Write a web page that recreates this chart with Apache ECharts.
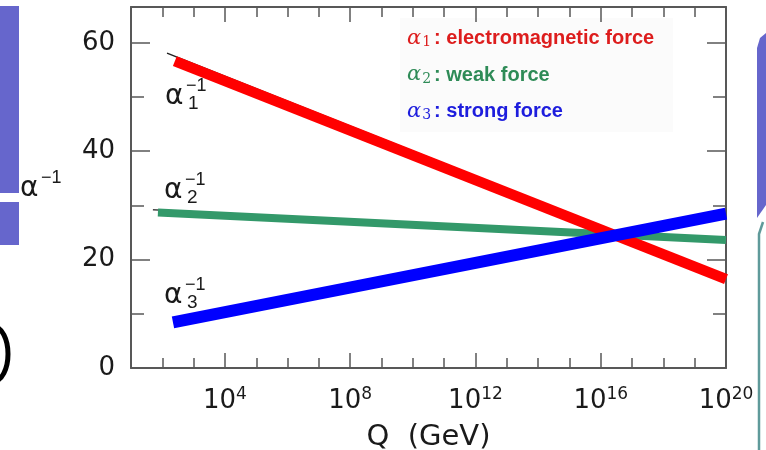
<!DOCTYPE html>
<html><head><meta charset="utf-8">
<script src="https://cdn.jsdelivr.net/npm/echarts@6/dist/echarts.min.js"></script>
<style>html,body{margin:0;padding:0;background:#fff}#c{width:766px;height:450px}</style>
</head><body><div id="c"></div>
<script>
// x values are exponents n of Q = 10^n GeV
const legendNames = ['α1: electromagnetic force', 'α2: weak force', 'α3: strong force'];
const redX = [2.40, 20];   const redY = [56.6, 16.4];
const greenX = [1.86, 20]; const greenY = [28.7, 23.6];
const blueX = [2.34, 20];  const blueY = [8.4, 28.5];
const blackX = [2.15, 20]; const blackY = [58.1, 17.0];
const greyX = [1.70, 20];  const greyY = [29.2, 24.0];
const xLabelExps = [4, 8, 12, 16, 20];
const yLabels = [0, 20, 40, 60];

const zip = (a, b) => a.map((v, i) => [v, b[i]]);
const axisCol = '#585858';
const txt = '#1a1a1a';

const xBase = {
  type: 'value', min: 1, max: 20, interval: 1,
  splitLine: { show: false }, axisLine: { show: false, onZero: false }, axisLabel: { show: false },
  axisTick: { show: true, inside: true, length: 10, lineStyle: { color: axisCol, width: 1.5 } }
};
const yBase = {
  type: 'value', min: 0, max: 66.6, interval: 10,
  splitLine: { show: false }, axisLine: { show: false, onZero: false }, axisLabel: { show: false },
  axisTick: { show: true, inside: true, length: 13, lineStyle: { color: axisCol, width: 1.5 } }
};
const frameLine = { show: true, onZero: false, lineStyle: { color: axisCol, width: 2 } };

const legendColors = ['#dd1d1d', '#2e8b57', '#1d1ddd'];
const rich = {};
legendColors.forEach((c, i) => {
  rich['g' + i] = { color: c, fontFamily: 'DejaVu Serif', fontStyle: 'italic', fontSize: 21, lineHeight: 22 };
  rich['s' + i] = { color: c, fontFamily: 'DejaVu Serif', fontSize: 14, lineHeight: 8, verticalAlign: 'bottom', padding: [0, 3, 0, 1] };
  rich['t' + i] = { color: c, fontFamily: 'Liberation Sans', fontWeight: 'bold', fontSize: 20, lineHeight: 22 };
});

function alphaLabel(x, yc, sub) {
  const els = [
    { type: 'text', x: x, y: yc, style: { text: 'α', font: '28px "DejaVu Sans"', fill: txt, verticalAlign: 'middle', align: 'left' } },
    { type: 'text', x: x + 21, y: yc - 11, style: { text: '−1', font: '18px "Liberation Sans"', fill: txt, verticalAlign: 'middle', align: 'left' } }
  ];
  if (sub) els.push({ type: 'text', x: x + 23, y: yc + 7, style: { text: sub, font: '19px "Liberation Sans"', fill: txt, verticalAlign: 'middle', align: 'left' } });
  return els;
}

const chart = echarts.init(document.getElementById('c'));
chart.setOption({
  animation: false,
  backgroundColor: '#fff',
  grid: { left: 131, top: 7, right: 40, bottom: 82, containLabel: false, outerBoundsMode: 'none' },
  legend: {
    orient: 'vertical', left: 402, top: 28, itemGap: 15, icon: 'none', itemWidth: 0, itemHeight: 20,
    padding: 0, selectedMode: false,
    data: legendNames,
    formatter: function (n) {
      const i = legendNames.indexOf(n);
      const m = n.match(/^α(\d): (.*)$/);
      return '{g' + i + '|α}{s' + i + '|' + m[1] + '}{t' + i + '|: ' + m[2] + '}';
    },
    textStyle: { rich: rich }
  },
  xAxis: [
    Object.assign({}, xBase, {
      position: 'bottom', axisLine: frameLine,
      axisLabel: {
        show: true, customValues: xLabelExps, margin: 18, color: txt,
        formatter: v => '{b|10}{s|' + Math.round(v) + '}',
        rich: {
          b: { fontFamily: 'DejaVu Sans', fontSize: 26, lineHeight: 30, color: txt },
          s: { fontFamily: 'DejaVu Sans', fontSize: 17, lineHeight: 12, verticalAlign: 'top', color: txt }
        }
      },
      name: 'Q  (GeV)', nameLocation: 'middle', nameGap: 55,
      nameTextStyle: { fontFamily: 'DejaVu Sans', fontSize: 29, color: txt }
    }),
    Object.assign({}, xBase, { position: 'top', axisLine: frameLine }),
    Object.assign({}, xBase, { position: 'bottom', axisTick: Object.assign({}, xBase.axisTick, { length: 15, customValues: xLabelExps }) }),
    Object.assign({}, xBase, { position: 'top', axisTick: Object.assign({}, xBase.axisTick, { length: 15, customValues: xLabelExps }) })
  ],
  yAxis: [
    Object.assign({}, yBase, {
      position: 'left', axisLine: frameLine,
      axisLabel: {
        show: true, customValues: yLabels, margin: 16, color: txt,
        fontFamily: 'DejaVu Sans', fontSize: 26, padding: [10, 0, 0, 0]
      }
    }),
    Object.assign({}, yBase, { position: 'right', axisLine: frameLine }),
    Object.assign({}, yBase, { position: 'left', interval: 20, axisTick: Object.assign({}, yBase.axisTick, { length: 19 }) }),
    Object.assign({}, yBase, { position: 'right', interval: 20, axisTick: Object.assign({}, yBase.axisTick, { length: 19 }) })
  ],
  series: [
    { type: 'line', name: 'k1', data: zip(blackX, blackY), symbol: 'none', silent: true, z: 1,
      lineStyle: { color: '#222', width: 1.5 }, itemStyle: { color: '#222' } },
    { type: 'line', name: 'k2', data: zip(greyX, greyY), symbol: 'none', silent: true, z: 1,
      lineStyle: { color: '#444', width: 1.5 }, itemStyle: { color: '#444' } },
    { type: 'line', name: legendNames[1], data: zip(greenX, greenY), symbol: 'none', z: 2,
      lineStyle: { color: '#33996a', width: 8, cap: 'butt' }, itemStyle: { color: '#33996a' } },
    { type: 'line', name: legendNames[0], data: zip(redX, redY), symbol: 'none', z: 3,
      lineStyle: { color: '#ff0000', width: 10.5, cap: 'butt' }, itemStyle: { color: '#ff0000' } },
    { type: 'line', name: legendNames[2], data: zip(blueX, blueY), symbol: 'none', z: 4,
      lineStyle: { color: '#0000ff', width: 12, cap: 'butt' }, itemStyle: { color: '#0000ff' } }
  ],
  graphic: [
    { type: 'rect', z: -10, shape: { x: 400, y: 18, width: 273, height: 114 }, style: { fill: '#fbfbfb' } },
    { type: 'rect', shape: { x: 0, y: 6, width: 19, height: 187 }, style: { fill: '#6666cc' } },
    { type: 'rect', shape: { x: 0, y: 202, width: 19, height: 43 }, style: { fill: '#6666cc' } },
    { type: 'ellipse', shape: { cx: -6, cy: 354, rx: 14, ry: 27 }, style: { fill: null, stroke: '#000', lineWidth: 5 } },
    { type: 'polygon', shape: { points: [[757, 48], [760, 38], [766, 33], [766, 205], [757, 218]] }, style: { fill: '#6666cc' } },
    { type: 'polyline', shape: { points: [[763, 222], [759, 234], [759, 450]] }, style: { stroke: '#5f9a9a', lineWidth: 2.5, fill: null } }
  ].concat(alphaLabel(165, 97, '1'), alphaLabel(164, 191, '2'), alphaLabel(164, 296, '3'), alphaLabel(20, 189, null))
});
</script>
</body></html>
